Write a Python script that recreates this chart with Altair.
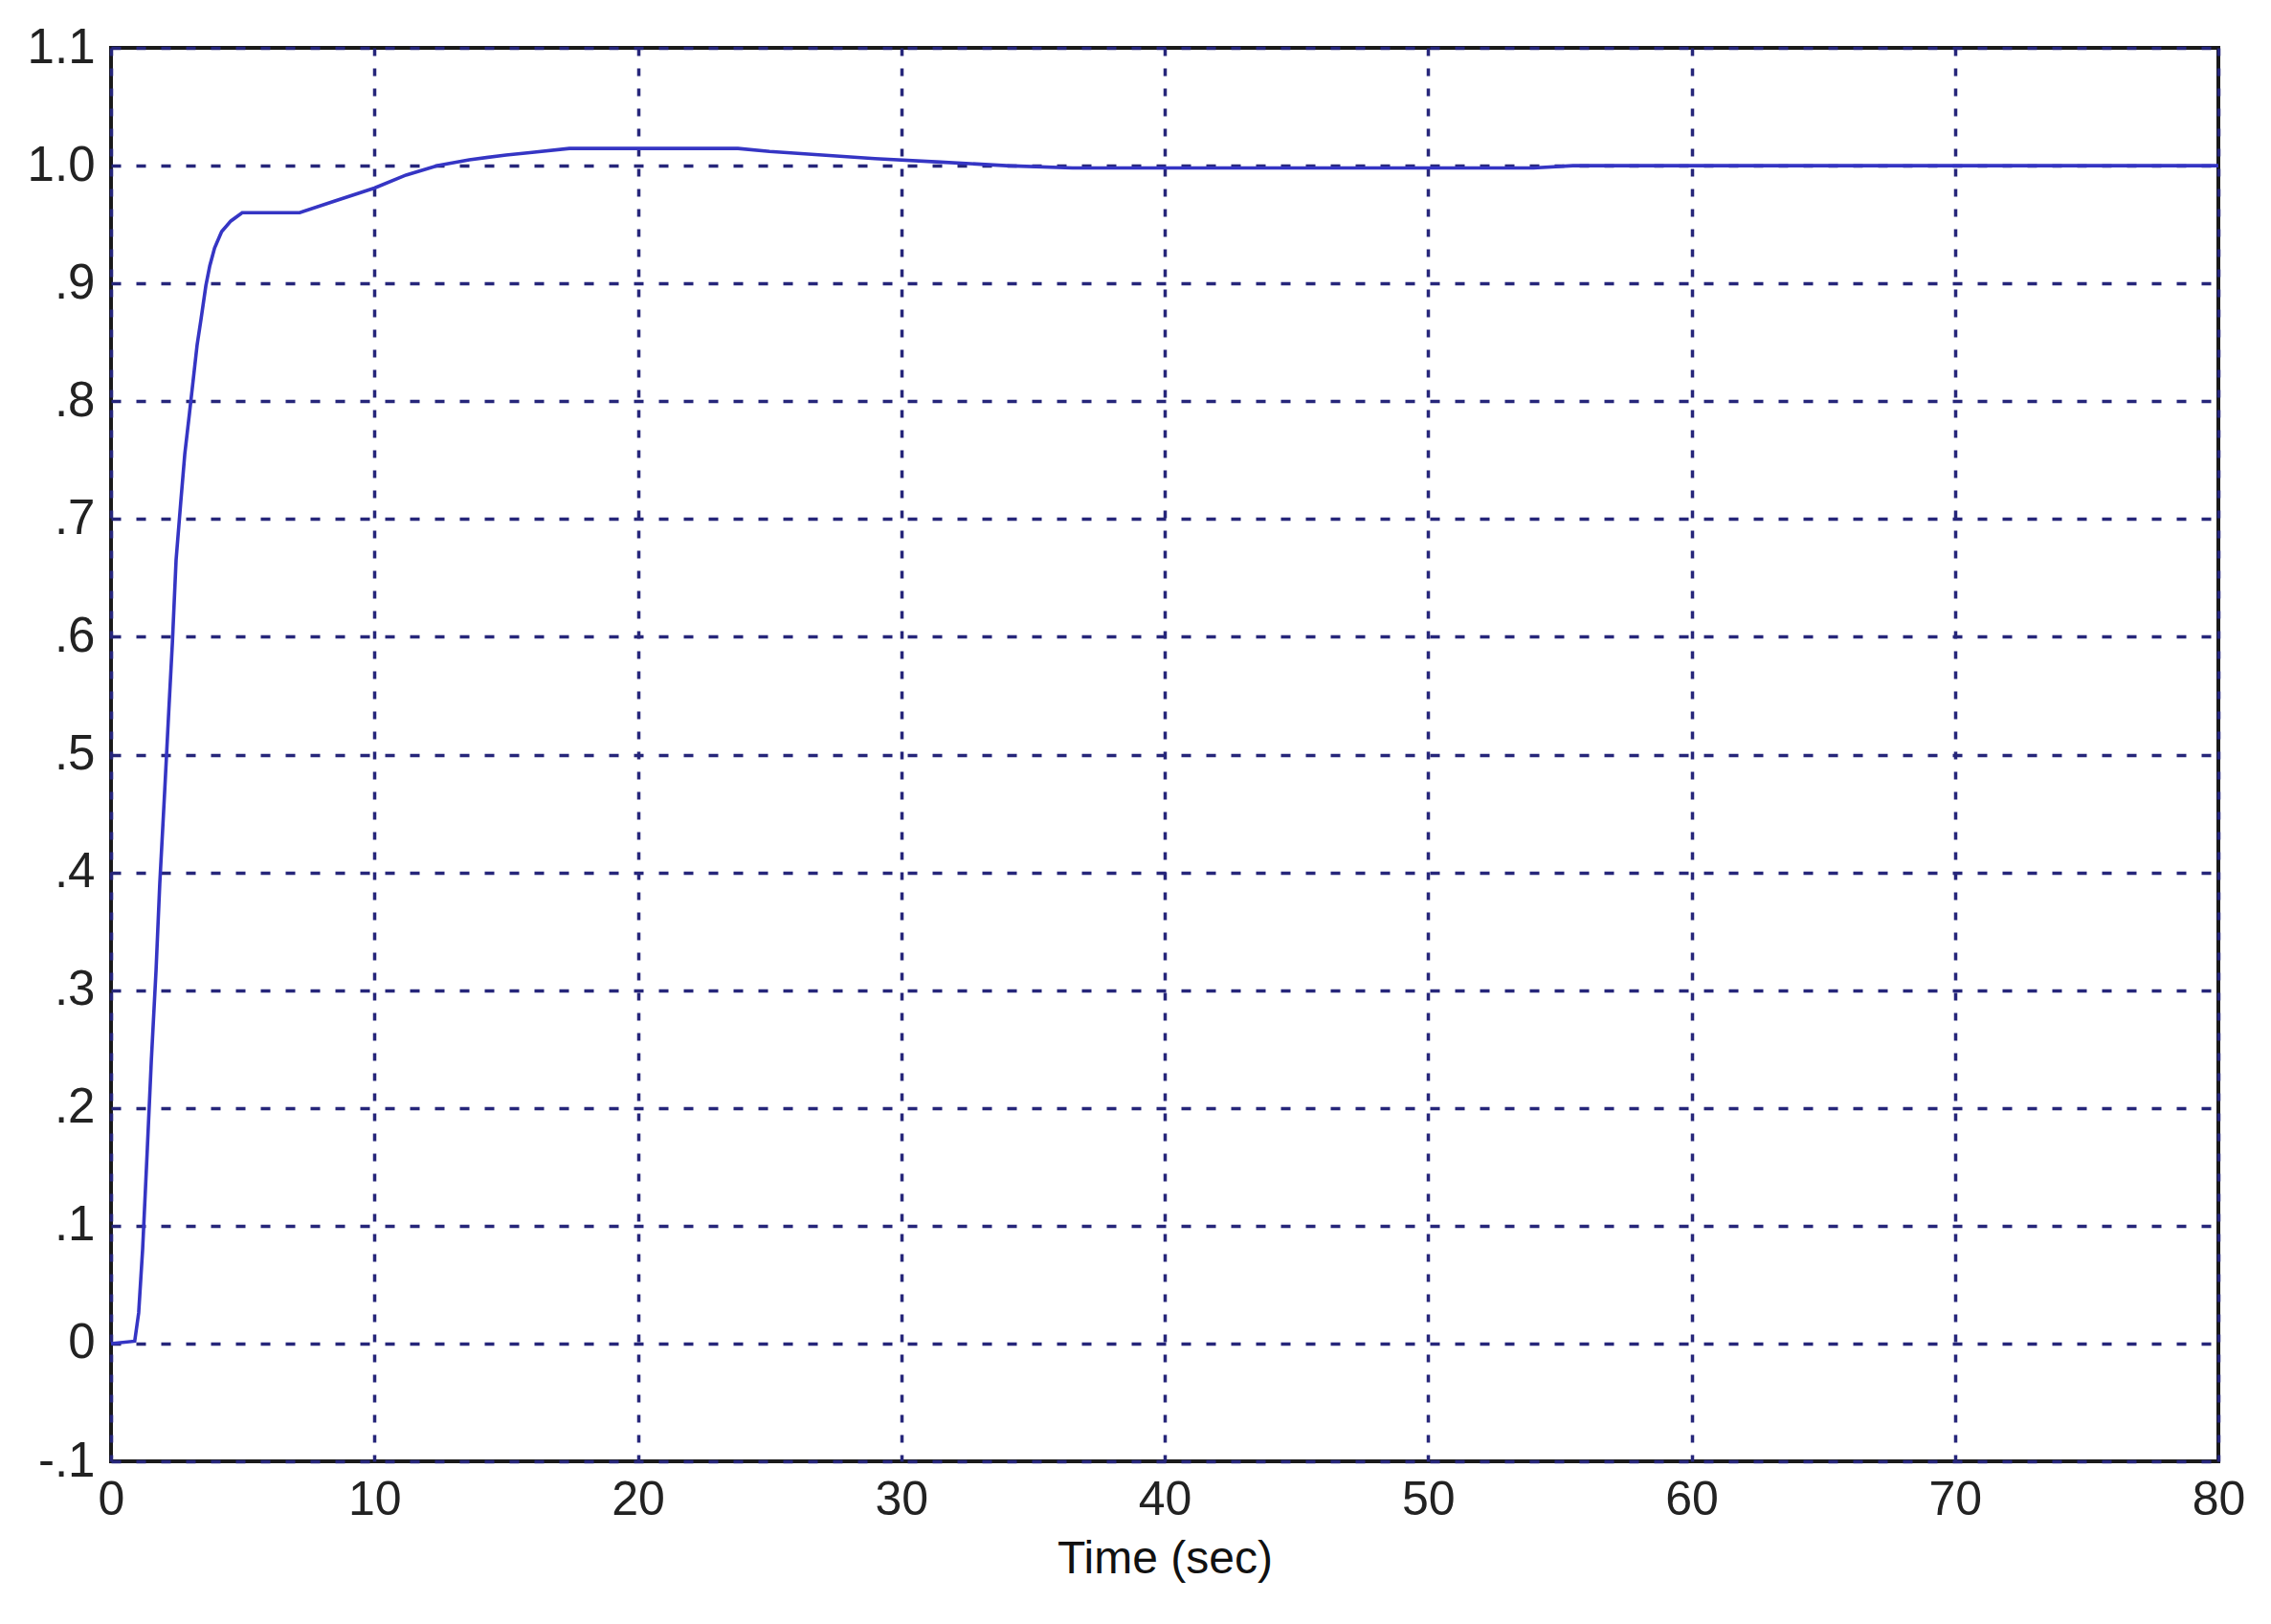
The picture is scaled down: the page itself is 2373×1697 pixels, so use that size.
import altair as alt
import pandas as pd

time_s = [0, 0.9, 1.05, 1.2, 1.38, 1.53, 1.71, 1.85, 2.04, 2.2, 2.33, 2.47, 2.65, 2.8,
          2.98, 3.13, 3.27, 3.42, 3.6, 3.75, 3.93, 4.2, 4.55, 4.98, 7.16, 8.5, 10, 11.2,
          12.4, 13.6, 15, 15.9, 17.4, 23.8, 25, 27, 29, 31.5, 34, 36.5, 54, 55.5, 80]
response = [0, 0.002, 0.026, 0.08, 0.166, 0.24, 0.317, 0.39, 0.47, 0.54, 0.595, 0.665,
            0.715, 0.755, 0.79, 0.82, 0.848, 0.87, 0.898, 0.915, 0.93, 0.944, 0.953,
            0.96, 0.96, 0.97, 0.981, 0.992, 1.0, 1.005, 1.009, 1.011, 1.0146, 1.0146,
            1.012, 1.009, 1.006, 1.003, 1.0, 0.998, 0.998, 1.0, 1.0]

x_ticks = [0, 10, 20, 30, 40, 50, 60, 70, 80]
y_ticks = [-0.1, 0, 0.1, 0.2, 0.3, 0.4, 0.5, 0.6, 0.7, 0.8, 0.9, 1.0, 1.1]

df = pd.DataFrame({"t": time_s, "y": response})

FONT = "Liberation Sans"
GRID = "#26267a"

chart = alt.Chart(df).mark_line(color="#3535c4", strokeWidth=3.6).encode(
    x=alt.X("t:Q", scale=alt.Scale(domain=[0, 80], nice=False, zero=False),
            axis=alt.Axis(title="Time (sec)", values=x_ticks, format="d",
                          grid=True, gridColor=GRID, gridDash=[8, 13], gridWidth=3.5,
                          gridOpacity=1, domain=False, ticks=False,
                          labelFont=FONT, labelFontSize=50, labelColor="#222",
                          labelPadding=15, labelFlush=False,
                          titleFont=FONT, titleFontSize=48, titleFontWeight="normal",
                          titleColor="#111", titlePadding=13)),
    y=alt.Y("y:Q", scale=alt.Scale(domain=[-0.1, 1.1], nice=False, zero=False),
            axis=alt.Axis(title=None, values=y_ticks,
                          labelExpr="datum.value == 0 ? '0' : datum.value < 0 ? '-.1' : replace(format(datum.value, '.1f'), '0.', '.')",
                          grid=True, gridColor=GRID, gridDash=[10, 16], gridWidth=3.5,
                          gridOpacity=1, domain=False, ticks=False,
                          labelFont=FONT, labelFontSize=51, labelColor="#222",
                          labelPadding=17, labelFlush=False)),
).properties(
    width=2202, height=1477,
    padding={"left": 108, "top": 42, "right": 47, "bottom": 162},
    autosize=alt.AutoSizeParams(type="none"),
    background="white",
).configure_view(
    stroke="#1a1a1a", strokeWidth=4
)

chart.save("out.html", embed_options={"renderer": "svg", "actions": False})
